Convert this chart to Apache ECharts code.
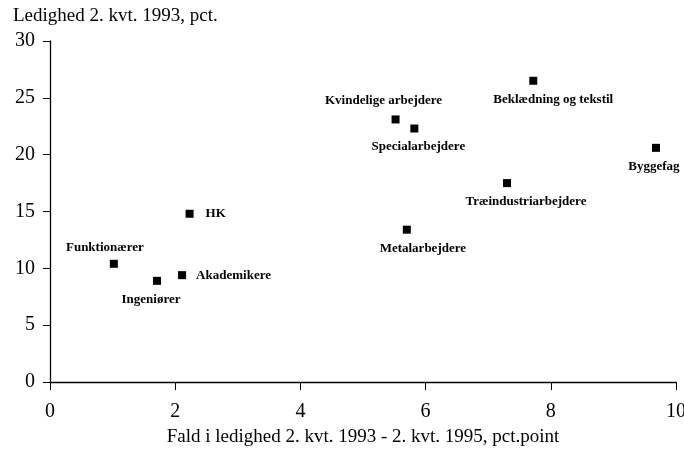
<!DOCTYPE html>
<html>
<head>
<meta charset="utf-8">
<script src="https://cdn.jsdelivr.net/npm/echarts@6/dist/echarts.min.js"></script>
<style>
  html, body { margin: 0; padding: 0; background: #fff; }
  #chart { width: 684px; height: 451px; }
</style>
</head>
<body>
<div id="chart"></div>
<script>
// faggrupper
const names = ['Funktionærer', 'Ingeniører', 'Akademikere', 'HK', 'Kvindelige arbejdere',
  'Specialarbejdere', 'Metalarbejdere', 'Beklædning og tekstil', 'Træindustriarbejdere', 'Byggefag']
// fald i ledighed (pct.point)
const fald = [1.02, 1.71, 2.11, 2.23, 5.52, 5.82, 5.70, 7.72, 7.30, 9.68]
// ledighed 2. kvt. 1993 (pct.)
const ledighed = [10.4, 8.9, 9.4, 14.8, 23.1, 22.3, 13.4, 26.5, 17.5, 20.6]
const xTicks = [0, 2, 4, 6, 8, 10]
const yTicks = [0, 5, 10, 15, 20, 25, 30]

// hvor etiketten skal stå
const labelSetup = {
  'Funktionærer': { position: 'top', offset: [-9, 0] },
  'Ingeniører': { position: 'bottom', offset: [-6, 2] },
  'Akademikere': { position: 'right', offset: [4, 0] },
  'HK': { position: 'right', offset: [6, 0] },
  'Kvindelige arbejdere': { position: 'top', offset: [-12, -2] },
  'Specialarbejdere': { position: 'bottom', offset: [4, 2] },
  'Metalarbejdere': { position: 'bottom', offset: [16, 2] },
  'Beklædning og tekstil': { position: 'bottom', offset: [20, 2] },
  'Træindustriarbejdere': { position: 'bottom', offset: [19, 2] },
  'Byggefag': { position: 'bottom', offset: [-2, 2] }
}

const points = names.map((n, i) => ({
  name: n,
  value: [fald[i], ledighed[i]],
  label: labelSetup[n]
}))

const font = '"Liberation Serif", "Times New Roman", serif'

const chart = echarts.init(document.getElementById('chart'), null, { renderer: 'canvas' })
chart.setOption({
  animation: false,
  backgroundColor: '#fff',
  title: {
    text: 'Ledighed 2. kvt. 1993, pct.',
    left: 8,
    top: 2,
    textStyle: { fontFamily: font, fontSize: 19, fontWeight: 'normal', color: '#000' }
  },
  grid: { left: 50, right: 8, top: 41, bottom: 69, outerBoundsMode: 'none' },
  xAxis: {
    type: 'value',
    min: xTicks[0],
    max: xTicks[xTicks.length - 1],
    interval: 2,
    name: 'Fald i ledighed 2. kvt. 1993 - 2. kvt. 1995, pct.point',
    nameLocation: 'middle',
    nameGap: 46,
    nameTextStyle: { fontFamily: font, fontSize: 19, color: '#000' },
    axisLine: { lineStyle: { color: '#000', width: 1.3 } },
    axisTick: { show: true, length: 8, lineStyle: { color: '#000' } },
    axisLabel: { fontFamily: font, fontSize: 20, color: '#000', margin: 20 },
    splitLine: { show: false }
  },
  yAxis: {
    type: 'value',
    min: yTicks[0],
    max: yTicks[yTicks.length - 1],
    interval: 5,
    axisLine: { show: true, lineStyle: { color: '#000', width: 1.3 } },
    axisTick: { show: true, length: 7, lineStyle: { color: '#000' } },
    axisLabel: { fontFamily: font, fontSize: 20, color: '#000', margin: 15 },
    splitLine: { show: false }
  },
  series: [{
    type: 'scatter',
    symbol: 'rect',
    symbolSize: 8,
    itemStyle: { color: '#000', opacity: 1 },
    label: {
      show: true,
      formatter: '{b}',
      fontFamily: font,
      fontSize: 13,
      fontWeight: 'bold',
      color: '#000',
      distance: 6
    },
    data: points
  }]
})
</script>
</body>
</html>
